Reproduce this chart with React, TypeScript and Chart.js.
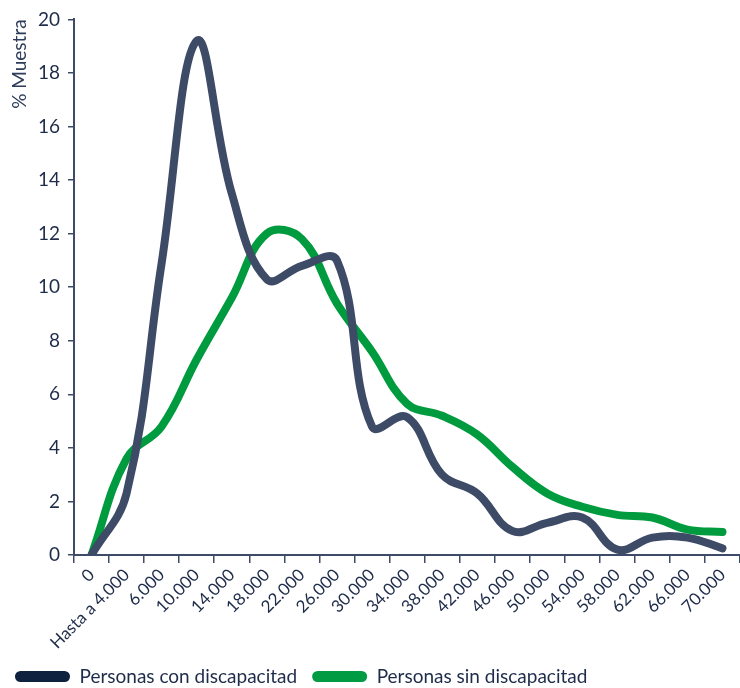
import React, { useEffect, useRef } from "react";
import { Chart, registerables } from "chart.js";

Chart.register(...registerables);

const categories = ["0", "Hasta a 4.000", "6.000", "10.000", "14.000", "18.000", "22.000", "26.000", "30.000", "34.000", "38.000", "42.000", "46.000", "50.000", "54.000", "58.000", "62.000", "66.000", "70.000"];
const conDiscapacidad = [0, 2.3, 10.9, 19.2, 13.5, 10.3, 10.8, 11.0, 4.8, 5.15, 3.0, 2.3, 0.9, 1.2, 1.4, 0.2, 0.65, 0.65, 0.25];
const sinDiscapacidad = [0, 3.6, 4.8, 7.3, 9.6, 12.0, 11.8, 9.4, 7.6, 5.65, 5.2, 4.5, 3.3, 2.3, 1.8, 1.5, 1.4, 0.95, 0.86];
const seriesNames = ["Personas con discapacitad", "Personas sin discapacitad"];
const yTitle = "% Muestra";

const FONT = "Lato";
const TEXT = "#1e2c4a";
const AXIS = "#3d4b66";

export default function App() {
  const ref = useRef<HTMLCanvasElement>(null);
  useEffect(() => {
    if (!ref.current) return;
    const chart = new Chart(ref.current, {
      type: "line",
      data: {
        labels: categories,
        datasets: [
          {
            label: seriesNames[0],
            data: conDiscapacidad,
            borderColor: "#3d4b67",
            backgroundColor: "#0e213f",
            borderWidth: 8,
            tension: 0.4,
            pointRadius: 0,
            fill: false,
            borderCapStyle: "round",
          },
          {
            label: seriesNames[1],
            data: sinDiscapacidad,
            borderColor: "#009b3e",
            backgroundColor: "#009b42",
            borderWidth: 8,
            tension: 0.4,
            pointRadius: 0,
            fill: false,
            borderCapStyle: "round",
          },
        ],
      },
      options: {
        responsive: false,
        animation: false,
        layout: { padding: { top: 10, right: 0, bottom: -8, left: 0 } },
        plugins: {
          tooltip: { enabled: false },
          legend: {
            position: "bottom",
            align: "start",
            labels: {
              font: { family: FONT, size: 19 },
              color: TEXT,
              boxWidth: 55,
              boxHeight: 11,
              padding: 15,
              useBorderRadius: true,
              borderRadius: 5.5,
              generateLabels: (c: any) => {
                const items = Chart.defaults.plugins.legend.labels.generateLabels(c);
                return items.map((it: any) => ({ ...it, lineWidth: 0, strokeStyle: "rgba(0,0,0,0)" }));
              },
            },
          },
        },
        scales: {
          x: {
            offset: true,
            grid: {
              offset: true,
              drawOnChartArea: false,
              drawTicks: true,
              tickLength: 8,
              color: AXIS,
              lineWidth: 1.5,
            },
            border: { color: AXIS, width: 2 },
            ticks: {
              autoSkip: false,
              minRotation: 45,
              maxRotation: 45,
              padding: 2,
              color: TEXT,
              font: { family: FONT, size: 17 },
            },
            afterFit: (s: any) => {
              s.height = 97;
            },
          },
          y: {
            min: 0,
            max: 20,
            ticks: {
              stepSize: 2,
              padding: 8,
              color: TEXT,
              font: { family: FONT, size: 19 },
            },
            grid: {
              drawOnChartArea: false,
              drawTicks: true,
              tickLength: 6,
              color: AXIS,
              lineWidth: 1.5,
            },
            border: { color: AXIS, width: 2 },
            title: {
              display: true,
              text: yTitle,
              align: "end",
              color: "#2d3c5a",
              font: { family: FONT, size: 19 },
              padding: { top: 8, bottom: 0 },
            },
            afterFit: (s: any) => {
              s.width = 74;
            },
          },
        },
      },
    } as any);
    return () => chart.destroy();
  }, []);
  return (
    <div style={{ position: "absolute", left: 0, top: 0, width: 740, height: 688 }}>
      <canvas ref={ref} width={740} height={688} />
    </div>
  );
}
